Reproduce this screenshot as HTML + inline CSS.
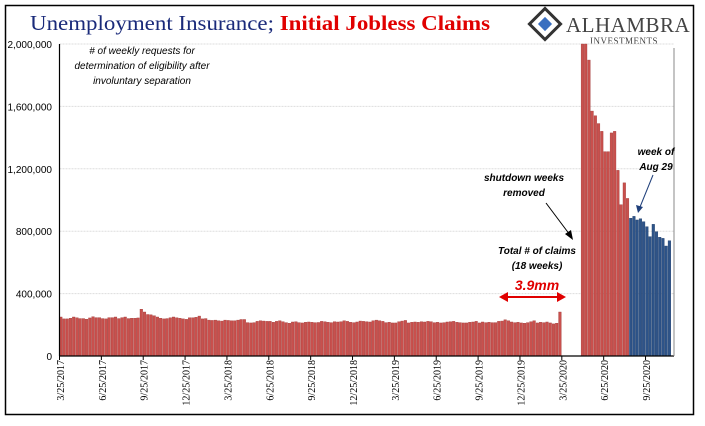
<!DOCTYPE html>
<html><head><meta charset="utf-8">
<style>
body{margin:0;background:#fff;width:705px;height:421px;overflow:hidden;font-family:"Liberation Sans",sans-serif}
svg text{font-family:"Liberation Sans",sans-serif}
</style></head><body>
<svg id="chart" width="705" height="421" viewBox="0 0 705 421" xmlns="http://www.w3.org/2000/svg">
<rect x="5.5" y="5.5" width="688" height="409" fill="#fff" stroke="#000" stroke-width="1.5"/>
<text x="30" y="30" font-size="21" textLength="460" lengthAdjust="spacingAndGlyphs" style="font-family:'Liberation Serif',serif"><tspan fill="#1a2a7a">Unemployment Insurance; </tspan><tspan fill="#e00000" font-weight="bold">Initial Jobless Claims</tspan></text>
<g>
<rect x="534" y="13" width="22" height="22" transform="rotate(45 545 24)" fill="#fff" stroke="#333" stroke-width="3"/>
<rect x="540" y="19" width="10" height="10" transform="rotate(45 545 24)" fill="#3a6fc0"/>
<text x="566" y="32" font-size="21" fill="#444" style="font-family:'Liberation Serif',serif" letter-spacing="0.5">ALHAMBRA</text>
<text x="590" y="44" font-size="9" fill="#444" style="font-family:'Liberation Serif',serif" letter-spacing="0.5">INVESTMENTS</text>
</g>
<g id="grid"></g><g id="bars"></g><g id="axes"></g>
<g font-style="italic" font-size="10" fill="#000" text-anchor="middle">
<text x="142" y="54"><tspan x="142">#  of weekly requests for</tspan><tspan x="142" dy="15">determination of eligibility after</tspan><tspan x="142" dy="15">involuntary separation</tspan></text>
<text x="524" y="181" font-weight="bold"><tspan x="524">shutdown weeks</tspan><tspan x="524" dy="15">removed</tspan></text>
<text x="537" y="254" font-weight="bold"><tspan x="537">Total # of claims</tspan><tspan x="537" dy="15">(18 weeks)</tspan></text>
<text x="537" y="290" font-weight="bold" font-size="14" fill="#e00000">3.9mm</text>
<text x="656" y="155" font-weight="bold"><tspan x="656">week of</tspan><tspan x="656" dy="15">Aug 29</tspan></text>
</g>
<g>
<line x1="546" y1="203" x2="570" y2="235" stroke="#000" stroke-width="1"/>
<polygon points="573,240 565,234 571,230" fill="#000"/>
<line x1="653" y1="175" x2="640" y2="207" stroke="#1f3f7a" stroke-width="1"/>
<polygon points="638,213 636,205 643,207" fill="#1f3f7a"/>
<line x1="505" y1="297" x2="560" y2="297" stroke="#e00000" stroke-width="2"/>
<polygon points="499,297 508,292 508,302" fill="#e00000"/>
<polygon points="566,297 557,292 557,302" fill="#e00000"/>
</g>
</svg>
<script>
// weekly initial claims, thousands (null = shutdown weeks removed)
const pre2017 = [250,238,238,242,250,245,240,240,236,244,252,246,246,240,238,246,246,250,240,246,250,240,242,242,244,300,282,266,264,258,250,242,238,240,245,250,245,242,238,235,245,245,248,256,238,240];
const pre2018 = [230,228,230,226,224,230,228,226,226,230,234,234,214,212,214,222,226,224,222,222,216,222,226,220,214,210,218,220,214,212,216,218,216,214,215,222,220,216,214,220,218,220,226,222,216,214,218,224,222,220,218,226];
const pre2019 = [230,226,222,214,216,212,212,220,224,228,212,216,218,216,220,218,222,220,214,216,212,214,218,220,222,216,214,212,212,216,218,222,212,218,214,216,214,214,222,224,232,226,218,214,216,212,210,214,220,226,212,216];
const pre2020 = [214,218,212,206,210,282,null];
const gapWeeks = [null,null,null,null,null];
const postRed = [2400,2200,1897,1570,1540,1490,1440,1310,1310,1430,1440,1190,970,1110,1010];
const postBlue = [883,895,872,880,861,829,765,844,797,761,754,705,739];
const yTicks = [0,400,800,1200,1600,2000];
const yTickLabels = ["0","400,000","800,000","1,200,000","1,600,000","2,000,000"];
const xLabels = ["3/25/2017","6/25/2017","9/25/2017","12/25/2017","3/25/2018","6/25/2018","9/25/2018","12/25/2018","3/25/2019","6/25/2019","9/25/2019","12/25/2019","3/25/2020","6/25/2020","9/25/2020"];
const xLabelWeeks = [0,13,26,39,52,65,78,91,104,117,130,143,156,169,182];

const NS="http://www.w3.org/2000/svg";
const values=[].concat(pre2017,pre2018,pre2019,pre2020,gapWeeks,postRed,postBlue);
const blueStart=values.length-postBlue.length;
const X0=59.5, STEP=3.22, Y0=356, YTOP=44, YMAX=2000;
const xs=i=>X0+i*STEP;
const ys=v=>Y0-Math.min(v,YMAX)/YMAX*(Y0-YTOP);
const grid=document.getElementById('grid'),bars=document.getElementById('bars'),axes=document.getElementById('axes');
function mk(tag,attrs,parent){const e=document.createElementNS(NS,tag);for(const k in attrs)e.setAttribute(k,attrs[k]);parent.appendChild(e);return e;}
yTicks.forEach((t,i)=>{
  const y=ys(t);
  if(t>0){const g=mk('line',{x1:X0,x2:674,y1:y,y2:y,stroke:'#ddd','stroke-dasharray':'2,1'},grid);
  
  }
  const tx=mk('text',{x:52,y:y+4,'font-size':10,'text-anchor':'end',fill:'#000'},axes);
  tx.textContent=yTickLabels[i];
  
  
});
values.forEach((v,i)=>{
  if(v===null)return;
  const blue=i>=blueStart;
  const r=mk('rect',{x:xs(i),y:ys(v),width:STEP-0.6,height:Y0-ys(v),fill:blue?'#2e5489':'#c9504d',stroke:blue?'#1f3d6a':'#a33d3a','stroke-width':0.4},bars);
  
  
});
const xa=mk('line',{x1:X0,x2:674,y1:Y0,y2:Y0,stroke:'#000','stroke-width':1.2},axes);


const ya=mk('line',{x1:X0,x2:X0,y1:YTOP,y2:Y0,stroke:'#000','stroke-width':1.2},axes);


const ra=mk('line',{x1:674,x2:674,y1:48,y2:Y0,stroke:'#888','stroke-width':1},axes);


xLabels.forEach((l,i)=>{
  const x=xs(xLabelWeeks[i])+1;
  mk('line',{x1:x-1,x2:x-1,y1:Y0,y2:Y0+4,stroke:'#000'},axes);
  const t=mk('text',{x:0,y:0,'font-size':10,'text-anchor':'end',fill:'#000',transform:`translate(${x+3.5},360) rotate(-90)`,style:"font-family:'Liberation Serif',serif"},axes);
  t.textContent=l;
  
  
});
</script>
</body></html>
